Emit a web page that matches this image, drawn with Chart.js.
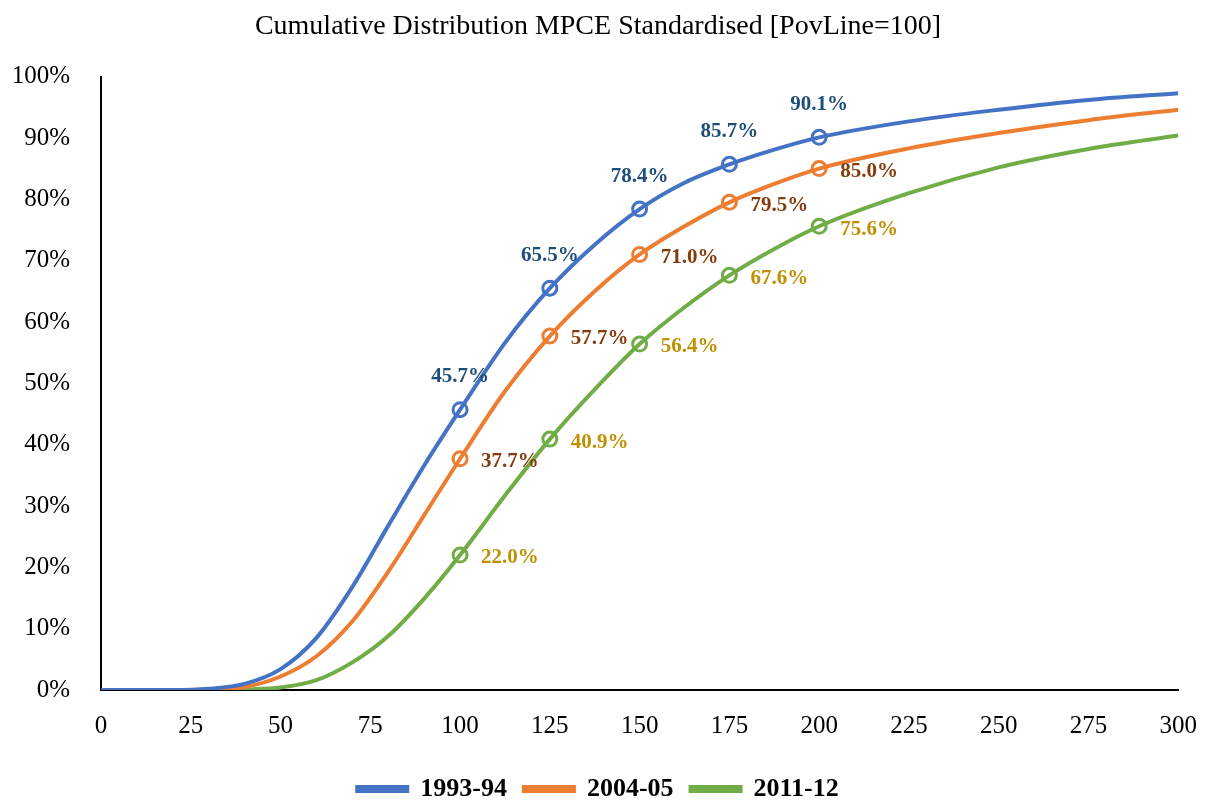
<!DOCTYPE html>
<html>
<head>
<meta charset="utf-8">
<script src="https://cdn.jsdelivr.net/npm/chart.js@4"></script>
<style>
  html, body { margin: 0; padding: 0; background: #fff; }
  #wrap { width: 1210px; height: 803px; }
</style>
</head>
<body>
<div id="wrap"><canvas id="cdfChart" width="1210" height="803"></canvas></div>
<script>
// MPCE (standardised, poverty line = 100)
const mpce = [0, 10, 20, 30, 40, 50, 60, 70, 80, 90, 100, 112.5, 125, 137.5, 150, 162.5, 175, 187.5, 200, 225, 250, 275, 300]

// cumulative share of population (%)
const y1993 = [0, 0, 0, 0.2, 1.0, 3.4, 8.5, 16.8, 26.8, 36.6, 45.7, 56.6, 65.5, 72.6, 78.4, 82.7, 85.7, 88.1, 90.1, 92.7, 94.6, 96.2, 97.3]
const y2004 = [0, 0, 0, 0.1, 0.5, 2.2, 5.5, 11.2, 19.3, 28.5, 37.7, 48.7, 57.7, 65.0, 71.0, 75.6, 79.5, 82.5, 85.0, 88.3, 90.8, 92.9, 94.6]
const y2011 = [0, 0, 0, 0, 0.1, 0.4, 1.6, 4.5, 8.8, 14.9, 22.0, 31.7, 40.9, 49.0, 56.4, 62.4, 67.6, 71.9, 75.6, 81.0, 85.2, 88.2, 90.4]

const seriesNames = ['1993-94', '2004-05', '2011-12']
const markerAt = [100, 125, 150, 175, 200]   // points shown with a marker + label
const xTicks = [0, 25, 50, 75, 100, 125, 150, 175, 200, 225, 250, 275, 300]
const yTicks = [0, 10, 20, 30, 40, 50, 60, 70, 80, 90, 100]

const lineColors = ['#4472C4', '#ED7D31', '#70AD47']
const labelColors = ['#1F4E79', '#843C0C', '#BF9000']
const serif = "'Liberation Serif', 'DejaVu Serif', serif"

const toPoints = (ys) => mpce.map((x, i) => ({ x: x, y: ys[i] }))

const makeSet = (name, ys, idx) => ({
  label: name,
  data: toPoints(ys),
  borderColor: lineColors[idx],
  backgroundColor: lineColors[idx],
  borderWidth: 4,
  cubicInterpolationMode: 'monotone',
  pointRadius: (c) => markerAt.includes(c.raw.x) ? 7 : 0,
  pointBorderWidth: 3,
  pointBorderColor: lineColors[idx],
  pointBackgroundColor: 'rgba(0,0,0,0)',
  pointHoverRadius: 0
})

// labels next to the markers
const markerLabels = {
  id: 'markerLabels',
  afterDatasetsDraw(chart) {
    const ctx = chart.ctx
    ctx.save()
    ctx.font = 'bold 21px ' + serif
    chart.data.datasets.forEach((ds, di) => {
      const meta = chart.getDatasetMeta(di)
      ds.data.forEach((p, i) => {
        if (!markerAt.includes(p.x)) return
        const el = meta.data[i]
        ctx.fillStyle = labelColors[di]
        const txt = p.y.toFixed(1) + '%'
        ctx.textBaseline = 'middle'
        if (di === 0) {
          ctx.textAlign = 'center'
          ctx.fillText(txt, el.x, el.y - 33)
        } else {
          ctx.textAlign = 'left'
          ctx.fillText(txt, el.x + 21, el.y + 3)
        }
      })
    })
    ctx.restore()
  }
}

const cdfChart = new Chart(document.getElementById('cdfChart'), {
  type: 'line',
  data: {
    datasets: [
      makeSet(seriesNames[0], y1993, 0),
      makeSet(seriesNames[1], y2004, 1),
      makeSet(seriesNames[2], y2011, 2)
    ]
  },
  options: {
    responsive: false,
    animation: false,
    layout: { padding: { left: 0, right: 14, top: 0, bottom: -9 } },
    plugins: {
      title: {
        display: true,
        text: 'Cumulative Distribution MPCE Standardised [PovLine=100]',
        color: '#000',
        font: { family: serif, size: 28, weight: 'normal' },
        padding: { top: 10, bottom: 33 }
      },
      legend: {
        position: 'bottom',
        labels: {
          color: '#000',
          font: { family: serif, size: 26, weight: 'bold' },
          boxWidth: 50,
          boxHeight: 4,
          padding: 17
        }
      },
      tooltip: { enabled: false }
    },
    scales: {
      x: {
        type: 'linear',
        min: 0,
        max: 300,
        afterBuildTicks: (s) => { s.ticks = xTicks.map(v => ({ value: v })) },
        afterFit: (s) => { s.height = 69 },
        grid: { display: false },
        border: { display: true, color: '#000', width: 2 },
        ticks: {
          color: '#000',
          font: { family: serif, size: 25 },
          padding: 13,
          maxRotation: 0
        }
      },
      y: {
        min: 0,
        max: 100,
        afterBuildTicks: (s) => { s.ticks = yTicks.map(v => ({ value: v })) },
        afterFit: (s) => { s.width = 101 },
        grid: { display: false },
        border: { display: true, color: '#000', width: 2 },
        ticks: {
          color: '#000',
          font: { family: serif, size: 25 },
          padding: 23,
          callback: (v) => v + '%'
        }
      }
    }
  },
  plugins: [markerLabels]
})
</script>
</body>
</html>
